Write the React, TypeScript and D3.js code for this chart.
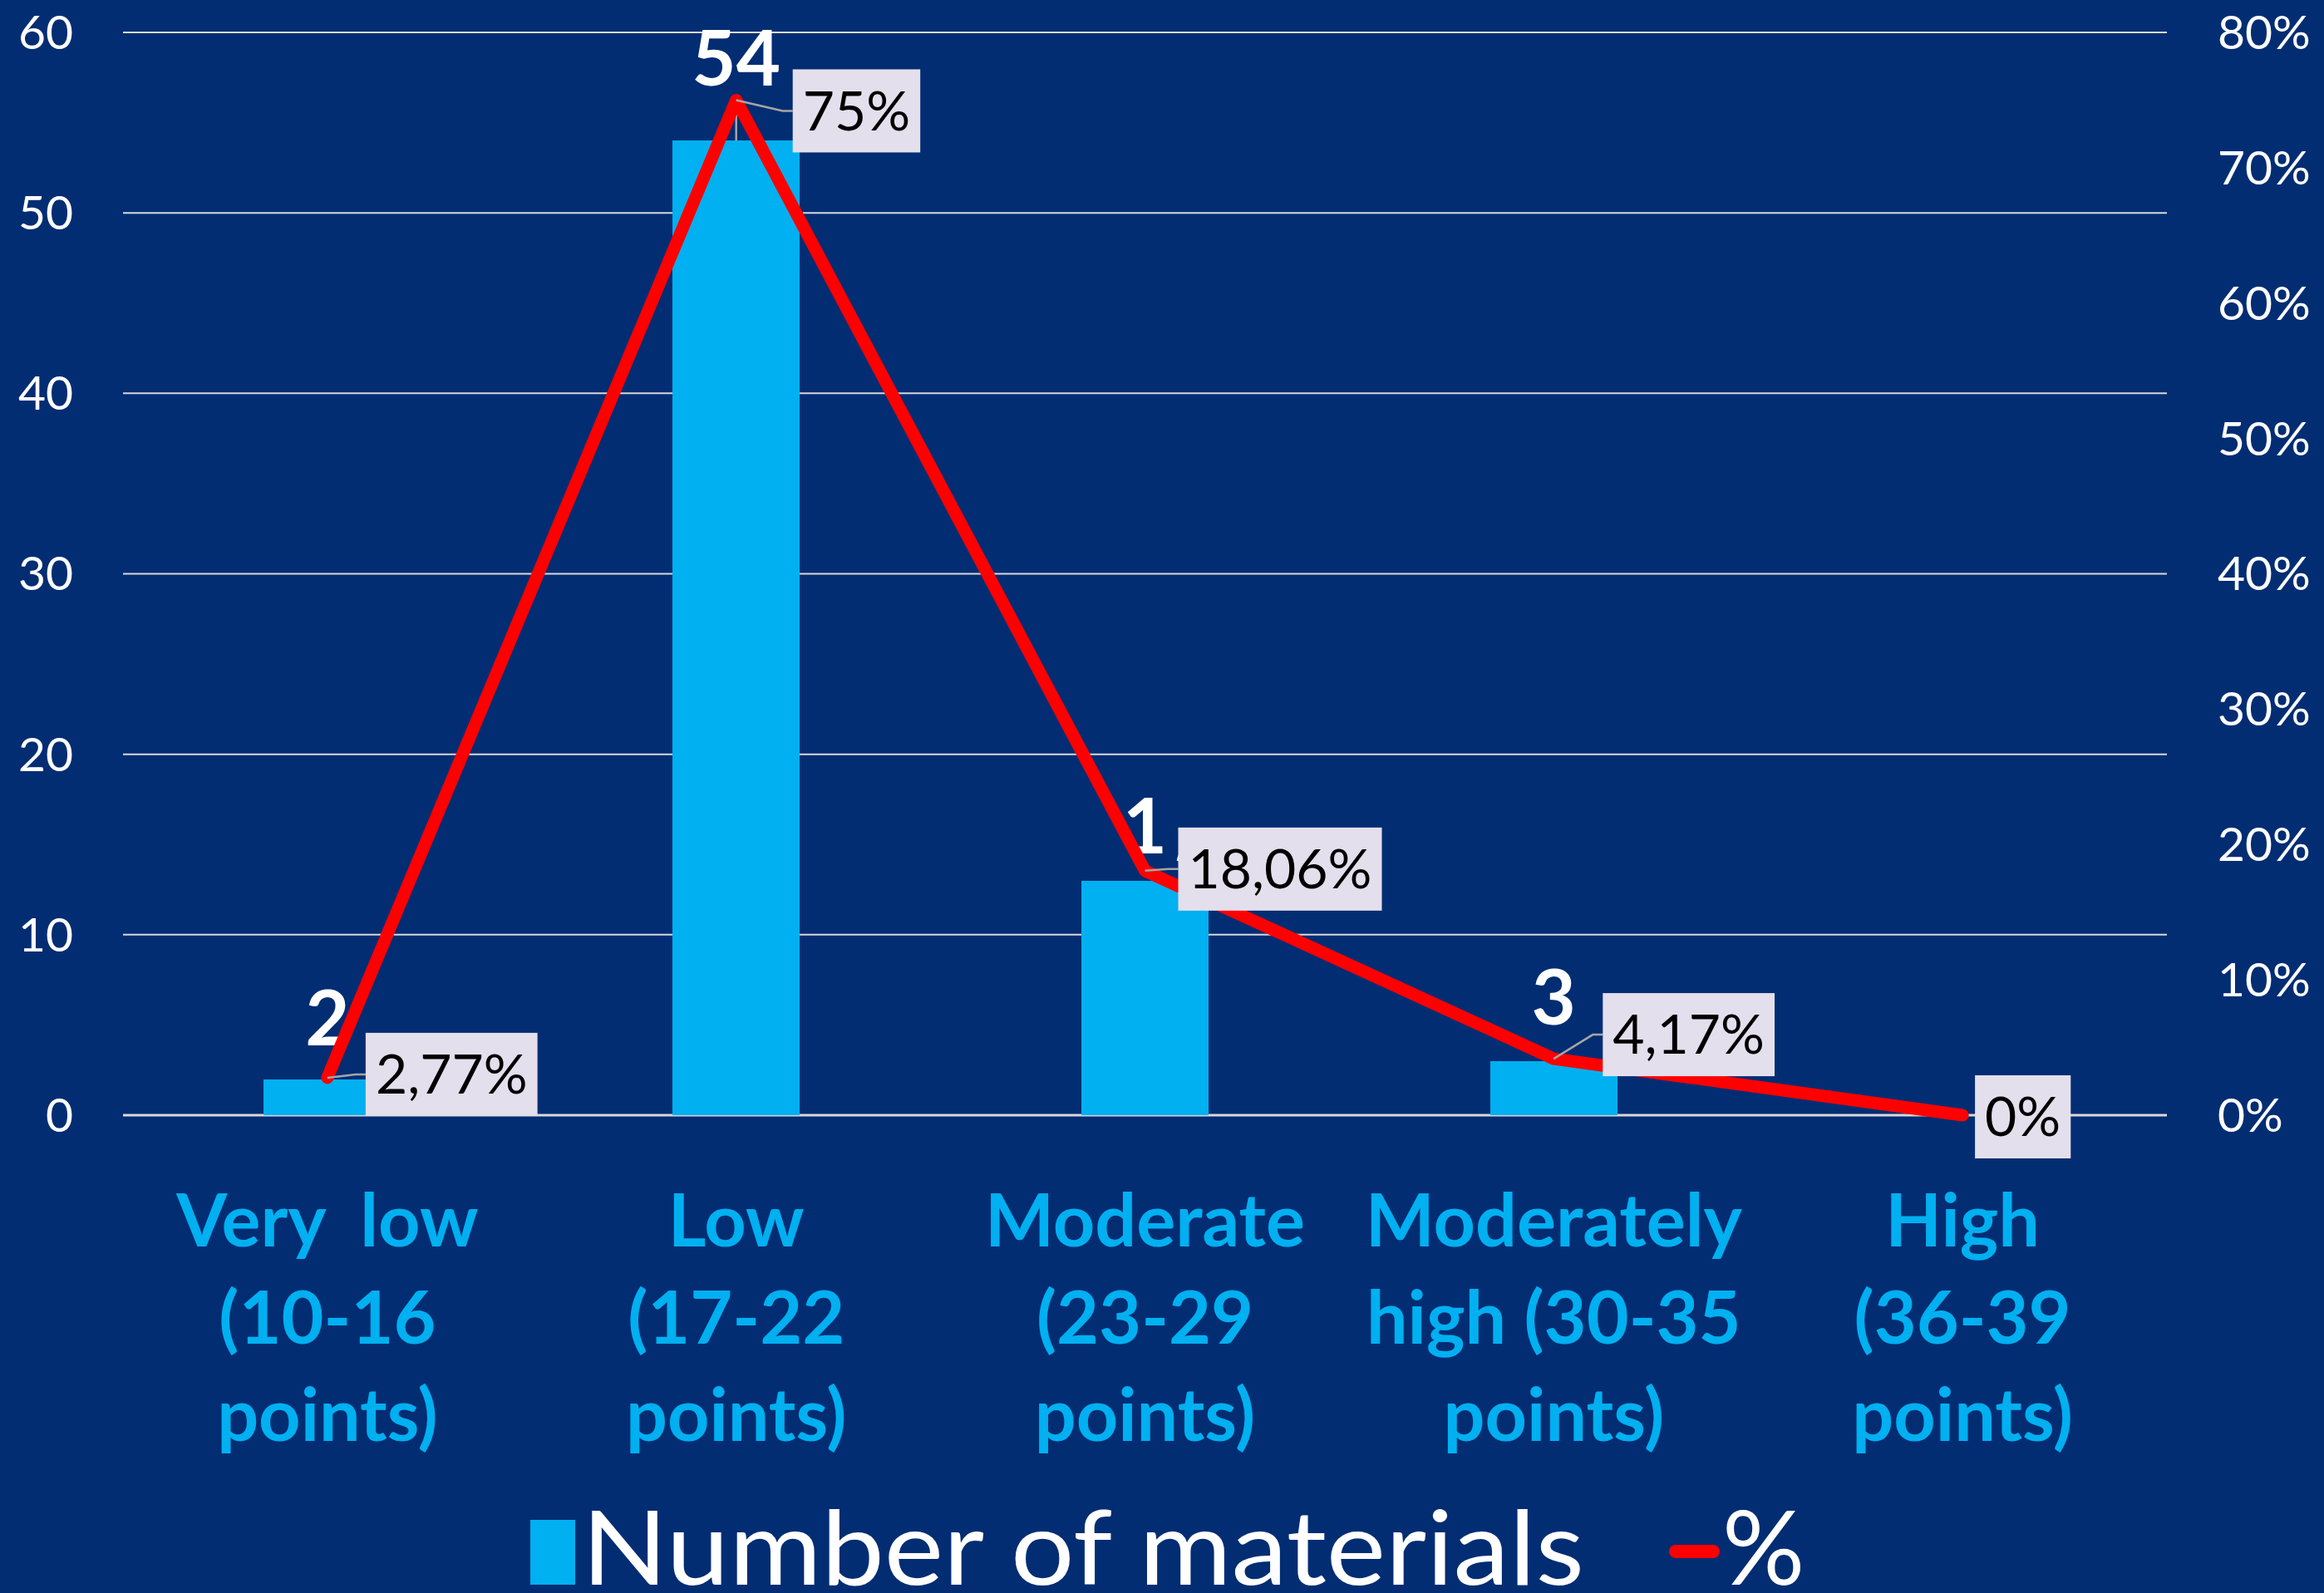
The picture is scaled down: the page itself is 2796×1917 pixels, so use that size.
import React, { useEffect, useRef } from 'react';
import * as d3 from 'd3';

// Category labels, one entry per wrapped line
const categoryLines: string[][] = [
  ['Very  low', '(10-16', 'points)'],
  ['Low', '(17-22', 'points)'],
  ['Moderate', '(23-29', 'points)'],
  ['Moderately', 'high (30-35', 'points)'],
  ['High', '(36-39', 'points)'],
];
const materialCounts = [2, 54, 13, 3, 0];
const percentShares = [2.77, 75, 18.06, 4.17, 0];
const percentLabels = ['2,77%', '75%', '18,06%', '4,17%', '0%'];
const countTicks = [0, 10, 20, 30, 40, 50, 60];
const percentTicks = [0, 10, 20, 30, 40, 50, 60, 70, 80];
const legendLabels = ['Number of materials', '%'];

const W = 2796;
const H = 1917;
const M = { left: 148, right: 2607, top: 39, bottom: 1342 };
const FONT = "Lato, 'Open Sans', sans-serif";
const BG = '#022D73';
const BAR = '#00B0F0';
const LINE = '#FF0000';

// hand-placed label offsets (px) for the data labels
const countLift = [41, 66, 33, 44, 0];
const countShift = [0, 0, 0, 0, 0];
// labels that wrap onto a second line (digit split point)
const countWrap = [0, 0, 1, 0, 0];
const pctBoxShift = [
  { dx: 46, dy: -4 },
  { dx: 68, dy: 13 },
  { dx: 40, dy: -2 },
  { dx: 59, dy: -29 },
  { dx: 15, dy: 2 },
];

export default function App() {
  const ref = useRef<SVGSVGElement | null>(null);

  useEffect(() => {
    const svg = d3.select(ref.current);
    svg.selectAll('*').remove();

    const x = d3
      .scaleBand<number>()
      .domain(d3.range(categoryLines.length))
      .range([M.left, M.right])
      .padding(0);
    const yL = d3.scaleLinear().domain([0, 60]).range([M.bottom, M.top]);
    const yR = d3.scaleLinear().domain([0, 80]).range([M.bottom, M.top]);
    const cx = (i: number) => (x(i) as number) + x.bandwidth() / 2;
    const barW = x.bandwidth() * 0.311;

    svg.append('rect').attr('width', W).attr('height', H).attr('fill', BG);

    // gridlines
    svg
      .append('g')
      .selectAll('line')
      .data(countTicks)
      .join('line')
      .attr('x1', M.left)
      .attr('x2', M.right)
      .attr('y1', (d) => yL(d))
      .attr('y2', (d) => yL(d))
      .attr('stroke', '#D9D9D9')
      .attr('stroke-width', (d) => (d === 0 ? 3 : 2));

    // left axis labels
    svg
      .append('g')
      .selectAll('text')
      .data(countTicks)
      .join('text')
      .attr('x', 88)
      .attr('y', (d) => yL(d))
      .attr('dy', '0.35em')
      .attr('text-anchor', 'end')
      .attr('font-family', FONT)
      .attr('font-size', 57)
      .attr('fill', '#FFFFFF')
      .text((d) => String(d));

    // right axis labels
    svg
      .append('g')
      .selectAll('text')
      .data(percentTicks)
      .join('text')
      .attr('x', 2668)
      .attr('y', (d) => yR(d))
      .attr('dy', '0.35em')
      .attr('text-anchor', 'start')
      .attr('font-family', FONT)
      .attr('font-size', 57)
      .attr('fill', '#FFFFFF')
      .text((d) => `${d}%`);

    // bars
    svg
      .append('g')
      .selectAll('rect')
      .data(materialCounts)
      .join('rect')
      .attr('x', (_, i) => cx(i) - barW / 2)
      .attr('y', (d) => yL(d))
      .attr('width', barW)
      .attr('height', (d) => M.bottom - yL(d))
      .attr('fill', BAR)
      .attr('shape-rendering', 'crispEdges');

    // leader from the tallest bar to its moved label
    materialCounts.forEach((d, i) => {
      if (countLift[i] > 50) {
        svg
          .append('line')
          .attr('x1', cx(i))
          .attr('x2', cx(i))
          .attr('y1', yL(d))
          .attr('y2', yL(d) - countLift[i] + 32)
          .attr('stroke', '#A6A6A6')
          .attr('stroke-width', 2.5);
      }
    });

    // count labels
    const cl = svg.append('g');
    materialCounts.forEach((d, i) => {
      if (d <= 0) return;
      const s = String(d);
      const t = cl
        .append('text')
        .attr('font-family', FONT)
        .attr('font-weight', 700)
        .attr('font-size', 92)
        .attr('fill', '#FFFFFF');
      const bx = cx(i) + countShift[i];
      const by = yL(d) - countLift[i];
      if (countWrap[i] > 0) {
        const a = s.slice(0, countWrap[i]);
        const b = s.slice(countWrap[i]);
        t.append('tspan').attr('x', bx).attr('y', by).attr('text-anchor', 'middle').text(a);
        t.append('tspan').attr('x', bx + 60).attr('y', by + 57).attr('text-anchor', 'middle').text(b);
      } else {
        t.attr('x', bx).attr('y', by).attr('text-anchor', 'middle').text(s);
      }
    });

    // percentage line
    const line = d3
      .line<number>()
      .x((_, i) => cx(i))
      .y((d) => yR(d));
    svg
      .append('path')
      .datum(percentShares)
      .attr('d', line)
      .attr('fill', 'none')
      .attr('stroke', LINE)
      .attr('stroke-width', 15)
      .attr('stroke-linejoin', 'round')
      .attr('stroke-linecap', 'round');

    // percentage labels in boxes with leader lines
    const boxH = 100;
    percentShares.forEach((p, i) => {
      const px = cx(i);
      const py = yR(p);
      const left = px + pctBoxShift[i].dx;
      const cy = py + pctBoxShift[i].dy;
      const g = svg.append('g');
      if (pctBoxShift[i].dx > 20) {
        g.append('path')
          .attr('d', d3.line()([[px, py], [left - 12, cy], [left, cy]]))
          .attr('fill', 'none')
          .attr('stroke', '#A6A6A6')
          .attr('stroke-width', 2.5);
      }
      const rect = g.append('rect').attr('fill', '#E4DFEC');
      const t = g
        .append('text')
        .attr('y', cy)
        .attr('dy', '0.35em')
        .attr('text-anchor', 'middle')
        .attr('font-family', FONT)
        .attr('font-size', 66)
        .attr('fill', '#000000')
        .text(percentLabels[i]);
      const tw = (t.node() as SVGTextElement).getComputedTextLength();
      const bw = tw + 24;
      rect
        .attr('x', left)
        .attr('y', cy - boxH / 2)
        .attr('width', bw)
        .attr('height', boxH);
      t.attr('x', left + bw / 2);
    });

    // category labels
    const cat = svg.append('g');
    categoryLines.forEach((lines, i) => {
      lines.forEach((ln, j) => {
        cat
          .append('text')
          .attr('x', cx(i))
          .attr('y', 1500 + j * 117)
          .attr('text-anchor', 'middle')
          .attr('font-family', FONT)
          .attr('font-weight', 700)
          .attr('font-size', 88)
          .attr('fill', BAR)
          .attr('xml:space', 'preserve')
          .style('white-space', 'pre')
          .text(ln);
      });
    });

    // legend
    const lg = svg.append('g');
    lg.append('rect')
      .attr('x', 638)
      .attr('y', 1829)
      .attr('width', 54)
      .attr('height', 78)
      .attr('fill', BAR);
    lg.append('text')
      .attr('x', 700)
      .attr('y', 1907)
      .attr('font-family', FONT)
      .attr('font-size', 124)
      .attr('fill', '#FFFFFF')
      .attr('textLength', 1206)
      .attr('lengthAdjust', 'spacingAndGlyphs')
      .text(legendLabels[0]);
    lg.append('line')
      .attr('x1', 2016)
      .attr('x2', 2061)
      .attr('y1', 1867)
      .attr('y2', 1867)
      .attr('stroke', LINE)
      .attr('stroke-width', 16)
      .attr('stroke-linecap', 'round');
    lg.append('text')
      .attr('x', 2072)
      .attr('y', 1907)
      .attr('font-family', FONT)
      .attr('font-size', 124)
      .attr('fill', '#FFFFFF')
      .text(legendLabels[1]);
  }, []);

  return (
    <svg
      ref={ref}
      width={W}
      height={H}
      style={{ position: 'absolute', left: 0, top: 0, display: 'block' }}
    />
  );
}
